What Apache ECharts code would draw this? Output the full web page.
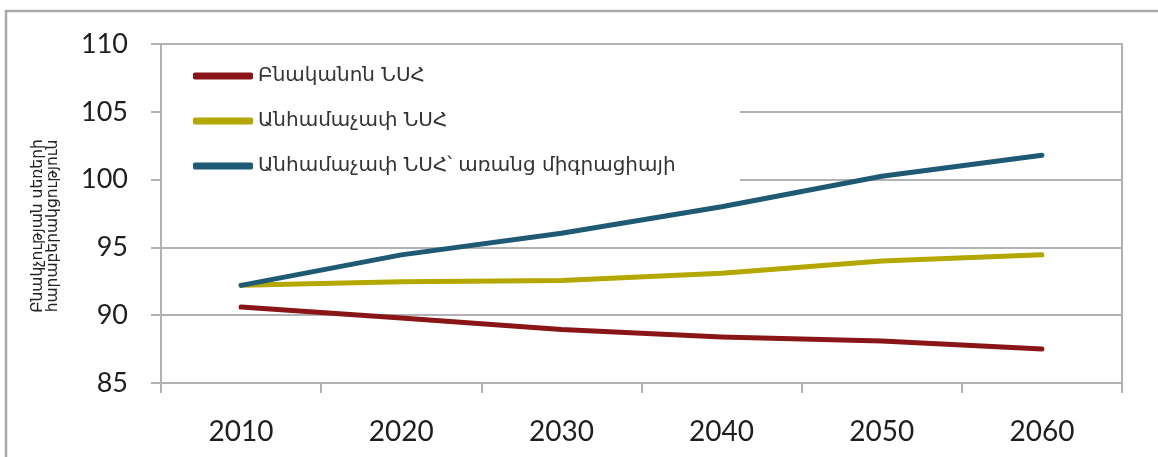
<!DOCTYPE html>
<html>
<head>
<meta charset="utf-8">
<script src="https://cdn.jsdelivr.net/npm/echarts@6/dist/echarts.min.js"></script>
<style>
html,body{margin:0;padding:0;background:#fff;}
#chart{width:1158px;height:457px;}
</style>
</head>
<body>
<div id="chart"></div>
<script>
const categories = ['2010', '2020', '2030', '2040', '2050', '2060'];
const seriesNames = ['Բնականոն ՆՍՀ', 'Անհամաչափ ՆՍՀ', 'Անհամաչափ ՆՍՀ՝ առանց միգրացիայի'];
const naturalValues = [90.6, 89.8, 88.95, 88.4, 88.1, 87.5];
const asymValues = [92.2, 92.47, 92.55, 93.1, 94.0, 94.45];
const asymNoMigValues = [92.2, 94.45, 96.05, 98.0, 100.25, 101.8];
const yTicks = { min: 85, max: 110, interval: 5 };
const yTitleLines = ['Բնակչության սեռերի', 'հարաբերակցություն'];

const colors = ['#8a1517', '#b3a700', '#1e5a73'];
const gridColor = '#b2b2b4';
const numFont = 'Lato, "DejaVu Sans", sans-serif';

const chart = echarts.init(document.getElementById('chart'), null, { renderer: 'canvas' });

function mkSeries(name, data, color) {
  return {
    name: name,
    type: 'line',
    data: data,
    symbol: 'none',
    smooth: false,
    lineStyle: { color: color, width: 5, cap: 'round', join: 'round' },
    itemStyle: { color: color },
    z: 3
  };
}

chart.setOption({
  animation: false,
  backgroundColor: '#fff',
  grid: { left: 161, right: 36, top: 44, bottom: 74, containLabel: false },
  legend: {
    orient: 'vertical',
    left: 165,
    top: 50,
    padding: [14, 70, 16, 28],
    backgroundColor: 'transparent',
    itemWidth: 60,
    itemHeight: 7,
    itemGap: 21,
    icon: 'roundRect',
    textStyle: { fontFamily: '"DejaVu Sans", sans-serif', fontSize: 20, color: '#333', lineHeight: 24, padding: [0, 0, 0, 0] },
    data: seriesNames
  },
  xAxis: {
    type: 'category',
    data: categories,
    boundaryGap: true,
    axisLine: { show: true, lineStyle: { color: gridColor, width: 2 } },
    axisTick: { show: true, length: 10, lineStyle: { color: gridColor, width: 2 } },
    axisLabel: { fontFamily: numFont, fontSize: 28, color: '#1e1e1e', margin: 35 },
    splitLine: { show: false }
  },
  yAxis: [{
    type: 'value',
    min: yTicks.min,
    max: yTicks.max,
    interval: yTicks.interval,
    axisLine: { show: true, lineStyle: { color: gridColor, width: 2 } },
    axisTick: { show: true, length: 10, lineStyle: { color: gridColor, width: 2 } },
    axisLabel: { fontFamily: numFont, fontSize: 27, color: '#1e1e1e', margin: 33 },
    splitLine: { show: true, lineStyle: { color: gridColor, width: 2 } }
  }, {
    type: 'value',
    position: 'right',
    min: yTicks.min,
    max: yTicks.max,
    interval: yTicks.interval,
    axisLine: { show: true, lineStyle: { color: gridColor, width: 2 } },
    axisTick: { show: false },
    axisLabel: { show: false },
    splitLine: { show: false }
  }],
  graphic: [{
    type: 'rect',
    z: 1,
    shape: { x: 6, y: 11, width: 1300, height: 600 },
    style: { fill: 'none', stroke: '#a9a9ab', lineWidth: 2.5 },
    silent: true
  }, {
    type: 'rect',
    z: 1,
    shape: { x: 162, y: 47, width: 578, height: 141 },
    style: { fill: '#ffffff', stroke: 'none' },
    silent: true
  }, {
    type: 'text',
    z: 1,
    x: 45,
    y: 226,
    rotation: Math.PI / 2,
    style: {
      text: yTitleLines.join('\n'),
      fontFamily: '"DejaVu Sans", sans-serif',
      fontSize: 15.5,
      lineHeight: 15,
      fill: '#222',
      align: 'center',
      verticalAlign: 'middle'
    }
  }],
  series: [
    mkSeries(seriesNames[0], naturalValues, colors[0]),
    mkSeries(seriesNames[1], asymValues, colors[1]),
    mkSeries(seriesNames[2], asymNoMigValues, colors[2])
  ]
});
</script>
</body>
</html>
